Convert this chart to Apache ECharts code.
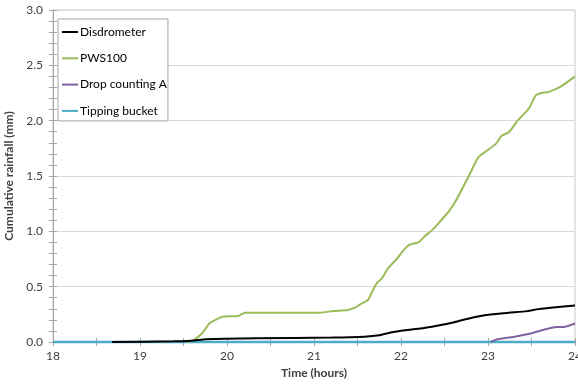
<!DOCTYPE html>
<html>
<head>
<meta charset="utf-8">
<script src="https://cdn.jsdelivr.net/npm/echarts@6/dist/echarts.min.js"></script>
<style>
  html, body { margin: 0; padding: 0; background: #fff; }
  #chart { width: 578px; height: 385px; }
</style>
</head>
<body>
<div id="chart"></div>
<script>
// Cumulative rainfall by instrument, time in hours
const seriesNames = ['Disdrometer', 'PWS100', 'Drop counting A', 'Tipping bucket'];
const seriesColors = ['#000000', '#9bbb59', '#8064a2', '#4bacc6'];

const disdrometerTime = [18.68, 19.38, 19.59, 19.76, 19.97, 20.35, 21.20, 21.58, 21.75, 21.88, 22.05, 22.22, 22.43, 22.60, 22.73, 22.90, 23.03, 23.24, 23.45, 23.58, 23.75, 24.0];
const disdrometerRain = [0, 0.006, 0.012, 0.024, 0.03, 0.033, 0.04, 0.048, 0.06, 0.085, 0.106, 0.121, 0.15, 0.176, 0.203, 0.233, 0.248, 0.264, 0.279, 0.297, 0.312, 0.33];

const pwsTime = [19.53, 19.62, 19.72, 19.80, 19.88, 19.96, 20.13, 20.21, 20.72, 21.07, 21.22, 21.39, 21.47, 21.53, 21.62, 21.66, 21.72, 21.78, 21.85, 21.95, 22.03, 22.10, 22.20, 22.28, 22.37, 22.45, 22.55, 22.64, 22.78, 22.89, 22.99, 23.09, 23.16, 23.24, 23.34, 23.47, 23.55, 23.61, 23.70, 23.84, 24.0];
const pwsRain = [0, 0.02, 0.084, 0.17, 0.205, 0.23, 0.235, 0.265, 0.265, 0.265, 0.28, 0.29, 0.31, 0.34, 0.38, 0.44, 0.53, 0.575, 0.665, 0.75, 0.83, 0.88, 0.90, 0.96, 1.02, 1.09, 1.18, 1.29, 1.50, 1.67, 1.73, 1.79, 1.865, 1.895, 2.00, 2.11, 2.23, 2.25, 2.26, 2.31, 2.40];

const dropTime = [23.03, 23.09, 23.32, 23.49, 23.66, 23.79, 23.87, 24.0];
const dropRain = [0, 0.021, 0.05, 0.076, 0.115, 0.136, 0.136, 0.167];

const bucketTime = [18, 24];
const bucketRain = [0, 0];

const yTicks = [0, 0.5, 1.0, 1.5, 2.0, 2.5, 3.0];
const xTicks = [18, 19, 20, 21, 22, 23, 24];

const pairs = (t, v) => t.map((x, i) => [x, v[i]]);
const seriesData = [
  pairs(disdrometerTime, disdrometerRain),
  pairs(pwsTime, pwsRain),
  pairs(dropTime, dropRain),
  pairs(bucketTime, bucketRain)
];

const FONT = 'Lato';
const textColor = '#404040';
const gridColor = '#d9d9d9';
const axisColor = '#a6a6a6';

const chart = echarts.init(document.getElementById('chart'), null, { renderer: 'canvas' });

// tick marks cross the axis line: one axis draws them outward, a twin draws them inward
function makeX(outward) {
  return {
    type: 'value',
    min: xTicks[0],
    max: xTicks[xTicks.length - 1],
    interval: 1,
    position: 'bottom',
    axisLine: { show: outward, lineStyle: { color: axisColor, width: 1 } },
    axisTick: { show: true, inside: !outward, length: 4, lineStyle: { color: axisColor } },
    minorTick: { show: true, splitNumber: 2, length: 4, lineStyle: { color: axisColor } },
    axisLabel: {
      show: outward, margin: 8, color: textColor, fontFamily: FONT, fontSize: 12,
      formatter: v => String(Math.round(v))
    },
    splitLine: { show: false },
    name: outward ? 'Time (hours)' : '',
    nameLocation: 'middle',
    nameGap: 25,
    nameTextStyle: { color: textColor, fontFamily: FONT, fontSize: 12, fontWeight: 'bold' }
  };
}

function makeY(outward) {
  return {
    type: 'value',
    min: yTicks[0],
    max: yTicks[yTicks.length - 1],
    interval: 0.5,
    position: 'left',
    axisLine: { show: outward, lineStyle: { color: axisColor, width: 1 } },
    axisTick: { show: true, inside: !outward, length: 4, lineStyle: { color: axisColor } },
    minorTick: { show: true, splitNumber: 5, length: 4, lineStyle: { color: axisColor } },
    axisLabel: {
      show: outward, margin: 10, color: textColor, fontFamily: FONT, fontSize: 12,
      formatter: v => v.toFixed(1)
    },
    splitLine: { show: outward, lineStyle: { color: gridColor, width: 1 } },
    name: outward ? 'Cumulative rainfall (mm)' : '',
    nameLocation: 'middle',
    nameGap: 31,
    nameRotate: 90,
    nameTextStyle: { color: textColor, fontFamily: FONT, fontSize: 12, fontWeight: 'bold' }
  };
}

chart.setOption({
  animation: false,
  backgroundColor: '#ffffff',
  grid: {
    left: 53, right: 3, top: 10, bottom: 43,
    outerBoundsMode: 'none',
    containLabel: false,
    show: true, borderColor: '#c8c8c8', borderWidth: 1, backgroundColor: 'transparent'
  },
  xAxis: [makeX(true), makeX(false)],
  yAxis: [makeY(true), makeY(false)],
  legend: {
    orient: 'vertical',
    left: 58,
    top: 19,
    padding: [7, 1, 4, 4],
    itemGap: 14.3,
    itemWidth: 16,
    itemHeight: 2,
    icon: 'rect',
    backgroundColor: '#ffffff',
    borderColor: '#a6a6a6',
    borderWidth: 1,
    borderRadius: 0,
    textStyle: { color: '#000000', fontFamily: FONT, fontSize: 12, padding: [0, 0, 0, -3] },
    data: seriesNames
  },
  series: seriesNames.map((name, i) => ({
    name: name,
    type: 'line',
    xAxisIndex: 0,
    yAxisIndex: 0,
    data: seriesData[i],
    showSymbol: false,
    symbol: 'none',
    smooth: 0.2,
    clip: false,
    z: i === 3 ? 3 : 4 + (3 - i),
    color: seriesColors[i],
    lineStyle: { color: seriesColors[i], width: i === 3 ? 2.5 : 2 }
  }))
});
</script>
</body>
</html>
